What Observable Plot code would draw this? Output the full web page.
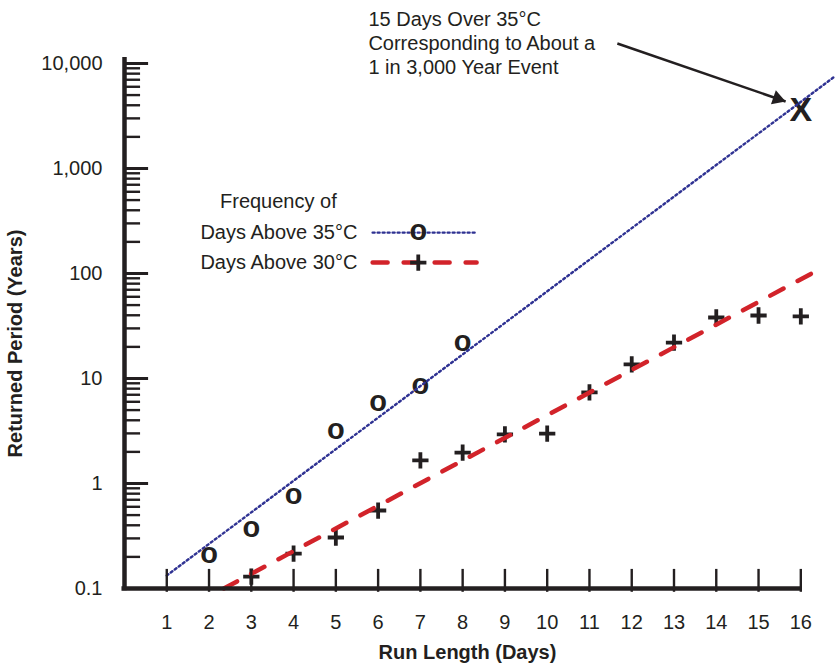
<!DOCTYPE html>
<html>
<head>
<meta charset="utf-8">
<script src="https://cdn.jsdelivr.net/npm/d3@7"></script>
<script src="https://cdn.jsdelivr.net/npm/@observablehq/plot@0.6"></script>
<style>
  html, body { margin: 0; padding: 0; background: #fff; }
</style>
</head>
<body>
<div id="chart"></div>
<script>
// ---------- data ----------
const dayTicks = [1, 2, 3, 4, 5, 6, 7, 8, 9, 10, 11, 12, 13, 14, 15, 16];
const periodTicks = [0.1, 1, 10, 100, 1000, 10000];
const periodTickLabels = ["0.1", "1", "10", "100", "1,000", "10,000"];

// Frequency of days above 35°C (O markers)
const days35 = [2, 3, 4, 5, 6, 7, 8];
const period35 = [0.206, 0.365, 0.75, 3.13, 5.78, 8.4, 21.5];

// Frequency of days above 30°C (+ markers)
const days30 = [3, 4, 5, 6, 7, 8, 9, 10, 11, 12, 13, 14, 15, 16];
const period30 = [0.13, 0.215, 0.306, 0.553, 1.66, 1.97, 2.93, 2.99, 7.36, 13.6, 22.0, 38.1, 39.8, 39.0];

// Fitted lines (end points)
const fit35Days = [1, 16.78];
const fit35Period = [0.133, 7400];
const fit30Days = [2.35, 16.43];
const fit30Period = [0.1, 109];

// Extrapolated event (X)
const eventDay = [16];
const eventPeriod = [3600];

// Annotation + legend text
const annotationLines = ["15 Days Over 35°C", "Corresponding to About a", "1 in 3,000 Year Event"];
const legendTitle = "Frequency of";
const legendLabels = ["Days Above 35°C", "Days Above 30°C"];
const xTitle = "Run Length (Days)";
const yTitle = "Returned Period (Years)";

// ---------- styling ----------
const FONT = "'Liberation Sans', Arial, Helvetica, sans-serif";
const INK = "#231f20";
const BLUE = "#2e3192";
const RED = "#d2232a";
const FS = 20;

const minorTicks = [];
for (let k = -1; k <= 3; ++k) for (let m = 2; m <= 9; ++m) minorTicks.push(+(m * Math.pow(10, k)).toPrecision(3));

const pts35 = days35.map((d, i) => ({day: d, period: period35[i]}));
const pts30 = days30.map((d, i) => ({day: d, period: period30[i]}));
const line35 = fit35Days.map((d, i) => ({day: d, period: fit35Period[i]}));
const line30 = fit30Days.map((d, i) => ({day: d, period: fit30Period[i]}));
const eventPts = eventDay.map((d, i) => ({day: d, period: eventPeriod[i]}));

// legend / annotation anchors (chart coordinates)
const legendRow35 = 245, legendRow30 = 127, legendTitleRow = 485;
const legendTextX = 5.51, legendTitleX = 3.64;
const legendLine = [5.87, 8.33], legendMarkX = 6.95;
const annoX = 5.77, annoY = 15850;
const arrowFrom = {day: 11.66, period: 15500};
const arrowTo = {day: 15.64, period: 4345};

const dotted = {stroke: BLUE, strokeWidth: 2.4, strokeDasharray: "2,3"};
const dashed = {stroke: RED, strokeWidth: 4.5, strokeDasharray: "15,16"};

const chart = Plot.plot({
  width: 837,
  height: 667,
  marginLeft: 124,
  marginRight: 35,
  marginTop: 57,
  marginBottom: 79,
  x: {domain: [0, 16.04], axis: null},
  y: {type: "log", domain: [0.1, 11400], axis: null},
  style: {fontFamily: FONT, color: INK, background: "#fff", overflow: "visible"},
  marks: [
    // markers
    Plot.text(pts35, {x: "day", y: "period", text: () => "o", fontSize: 29, fontWeight: "bold", fill: INK, dy: -1.5}),
    Plot.dot(pts30, {x: "day", y: "period", symbol: "plus", r: 5.3, stroke: INK, strokeWidth: 3.8}),
    Plot.text(eventPts, {x: "day", y: "period", text: () => "X", fontSize: 34, fontWeight: "bold", fill: INK}),

    // fitted lines
    Plot.line(line35, {x: "day", y: "period", ...dotted}),
    Plot.line(line30, {x: "day", y: "period", ...dashed}),

    // axes lines
    Plot.ruleX([0], {y1: 0.095, y2: 11400, stroke: INK, strokeWidth: 4.5}),
    Plot.ruleY([0.1], {x1: -0.06, x2: 16.04, stroke: INK, strokeWidth: 4.5}),

    // y ticks (inward)
    Plot.ruleY(periodTicks.slice(1), {x1: 0, x2: 0.57, stroke: INK, strokeWidth: 3}),
    Plot.ruleY(minorTicks, {x1: 0, x2: 0.38, stroke: INK, strokeWidth: 2.4}),
    Plot.text(periodTicks, {x: 0, y: d => d, text: (d, i) => periodTickLabels[i], textAnchor: "end", dx: -22, fontSize: FS, fill: INK}),

    // x ticks (upward)
    Plot.ruleX(dayTicks, {y1: 0.092, y2: 0.152, stroke: INK, strokeWidth: 2.4}),
    Plot.text(dayTicks, {x: d => d, y: 0.1, text: d => String(d), dy: 34, fontSize: FS, fill: INK}),

    // axis titles
    Plot.text([xTitle], {frameAnchor: "bottom", textAnchor: "middle", lineAnchor: "middle", dx: 4, dy: 64, fontSize: FS, fontWeight: "bold", fill: INK}),
    Plot.text([yTitle], {frameAnchor: "left", textAnchor: "middle", lineAnchor: "middle", rotate: -90, dx: -109, dy: 20.5, fontSize: FS, fontWeight: "bold", fill: INK}),

    // legend
    Plot.text([legendTitle], {x: legendTitleX, y: legendTitleRow, textAnchor: "middle", fontSize: FS, fill: INK}),
    Plot.text([legendLabels[0]], {x: legendTextX, y: legendRow35, textAnchor: "end", fontSize: FS, fill: INK}),
    Plot.text([legendLabels[1]], {x: legendTextX, y: legendRow30, textAnchor: "end", fontSize: FS, fill: INK}),
    Plot.line(legendLine.map(d => ({day: d, period: legendRow35})), {x: "day", y: "period", ...dotted}),
    Plot.line(legendLine.map(d => ({day: d, period: legendRow30})), {x: "day", y: "period", ...dashed}),
    Plot.text([{day: legendMarkX, period: legendRow35}], {x: "day", y: "period", text: () => "o", fontSize: 29, fontWeight: "bold", fill: INK, dy: -1.5}),
    Plot.dot([{day: legendMarkX, period: legendRow30}], {x: "day", y: "period", symbol: "plus", r: 5.3, stroke: INK, strokeWidth: 3.8}),

    // annotation
    Plot.text([annotationLines.join("\n")], {x: annoX, y: annoY, textAnchor: "start", lineAnchor: "middle", lineHeight: 1.2, fontSize: FS, fill: INK}),
    Plot.link([arrowFrom], {x1: "day", y1: "period", x2: () => arrowTo.day, y2: () => arrowTo.period, stroke: INK, strokeWidth: 2.5}),
    Plot.dot([arrowTo], {x: "day", y: "period", symbol: "triangle", r: 5.53, fill: INK, stroke: "none", rotate: 109.05, dx: -8.13, dy: -2.81})
  ]
});

document.getElementById("chart").appendChild(chart);
</script>
</body>
</html>
